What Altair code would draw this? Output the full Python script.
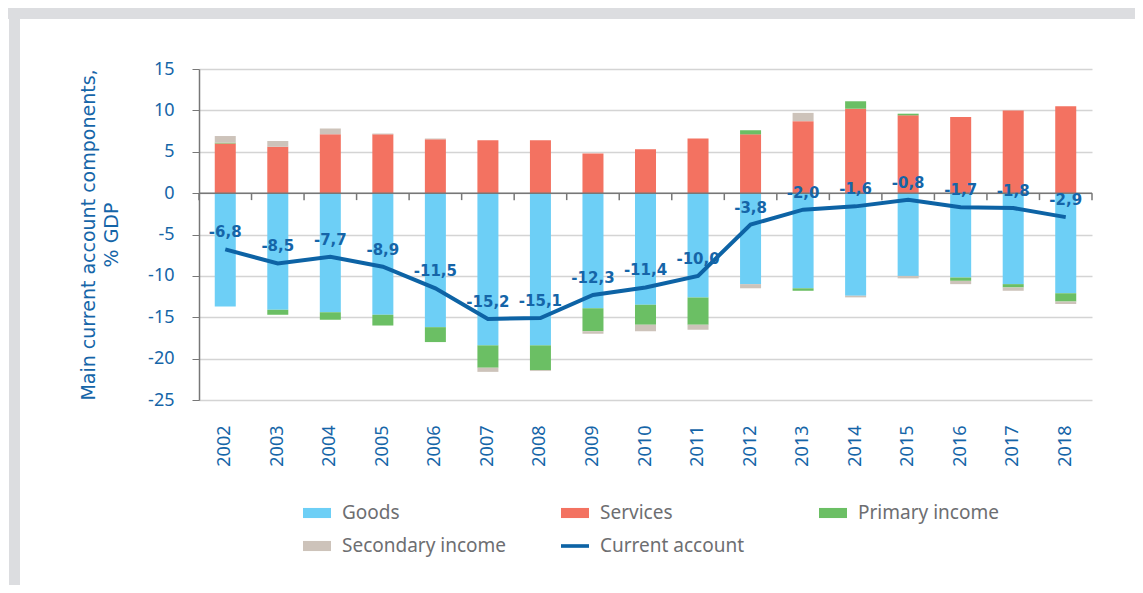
import altair as alt
import pandas as pd

years = [str(y) for y in range(2002, 2019)]
goods = [-13.7, -14.1, -14.4, -14.7, -16.2, -18.4, -18.4, -13.9, -13.5, -12.6, -11.0, -11.5, -12.4, -10.0, -10.2, -11.0, -12.1]
services = [6.0, 5.6, 7.1, 7.1, 6.5, 6.4, 6.4, 4.8, 5.3, 6.6, 7.1, 8.7, 10.2, 9.4, 9.2, 10.0, 10.5]
primary = [0.1, -0.6, -0.9, -1.3, -1.8, -2.7, -3.0, -2.8, -2.4, -3.3, 0.5, -0.3, 0.9, 0.2, -0.4, -0.4, -1.0]
secondary = [0.8, 0.7, 0.7, 0.1, 0.1, -0.5, -0.1, -0.3, -0.8, -0.6, -0.5, 1.0, -0.2, -0.3, -0.4, -0.4, -0.3]
current = [-6.8, -8.5, -7.7, -8.9, -11.5, -15.2, -15.1, -12.3, -11.4, -10.0, -3.8, -2.0, -1.6, -0.8, -1.7, -1.8, -2.9]

components = ["Goods", "Services", "Primary income", "Secondary income"]
bar_colors = ["#6dcff6", "#f37261", "#6bbf64", "#cdc3ba"]
line_name = "Current account"
line_color = "#0d63a5"

rows = []
for i, y in enumerate(years):
    for k, (name, vals) in enumerate(zip(components, [goods, services, primary, secondary])):
        rows.append({"year": y, "component": name, "value": vals[i], "order": k})
bars_df = pd.DataFrame(rows)
line_df = pd.DataFrame({
    "year": years,
    "ca": current,
    "label": [f"{v:.1f}".replace(".", ",") for v in current],
})
zero_df = pd.DataFrame({"year": years, "z": [0] * len(years)})

FONT = "Noto Sans"
BLUE = "#1565a8"
AXIS_GREY = "#777777"
FRAME = "#dcdde0"
W, H = 893, 331
STEP = W / len(years)
ZERO_Y = H * 15 / 40

xscale = alt.Scale(domain=years, paddingInner=0.6, paddingOuter=0.3)
yscale = alt.Scale(domain=[-25, 15], nice=False)

x_axis = alt.Axis(title=None, labelAngle=-90, labelFont=FONT, labelFontSize=18,
                  labelColor=BLUE, labelPadding=25, ticks=False, domain=False,
                  grid=False, labelBaseline="middle")
x_enc = alt.X("year:N", scale=xscale, sort=years, axis=x_axis)

legend_common = dict(
    title=None, orient="none", direction="horizontal", symbolSize=784,
    labelOffset=11, labelLimit=400,
    labelFont=FONT, labelFontSize=19, labelColor="#6d6e71", padding=0,
    symbolStrokeWidth=0, symbolOpacity=1,
)
bar_legend = alt.Legend(
    legendX=104, legendY=430, columns=3, columnPadding=54, rowPadding=9,
    gridAlign="all", values=components,
    symbolType="M-1,-0.36H1V0.36H-1Z", **legend_common,
)
line_legend = alt.Legend(
    legendX=362, legendY=463, symbolType="M-1,-0.13H1V0.13H-1Z",
    symbolFillColor=line_color, **legend_common,
)

# grey frame bands (top and left) outside the plot
frame_top = alt.Chart(pd.DataFrame({"p": [0]})).mark_rect(color=FRAME).encode(
    x=alt.value(-191), x2=alt.value(W + 43), y=alt.value(-61), y2=alt.value(-50)
)
frame_left = alt.Chart(pd.DataFrame({"p": [0]})).mark_rect(color=FRAME).encode(
    x=alt.value(-190), x2=alt.value(-179), y=alt.value(-61), y2=alt.value(H + 185)
)

bars = alt.Chart(bars_df).mark_bar().encode(
    x=x_enc,
    y=alt.Y("value:Q", scale=yscale, stack="zero",
            axis=alt.Axis(title=["Main current account components,", "% GDP"],
                          titleFont="DejaVu Sans", titleFontSize=19, titleFontWeight="normal",
                          titleColor=BLUE, titlePadding=26, titleLineHeight=23,
                          values=[-25, -20, -15, -10, -5, 0, 5, 10, 15],
                          labelExpr="'' + datum.value",
                          labelFont=FONT, labelFontSize=18, labelColor=BLUE,
                          labelPadding=18, tickSize=7, tickColor=AXIS_GREY,
                          domainColor=AXIS_GREY, domainWidth=1.5,
                          gridColor="#d4d4d4", gridWidth=1.5)),
    color=alt.Color("component:N", scale=alt.Scale(domain=components, range=bar_colors),
                    legend=bar_legend),
    order=alt.Order("order:Q"),
)

zero = alt.Chart(pd.DataFrame({"z": [0]})).mark_rule(color=AXIS_GREY, strokeWidth=1.5).encode(
    y=alt.Y("z:Q", scale=yscale)
)

# category tick marks hanging from the zero line at band boundaries
ticks_left = alt.Chart(zero_df).mark_rule(
    color=AXIS_GREY, strokeWidth=1.5, xOffset=-STEP / 2
).encode(
    x=x_enc,
    y=alt.Y("z:Q", scale=yscale),
    y2=alt.value(ZERO_Y + 7),
)
ticks_right = alt.Chart(zero_df.tail(1)).mark_rule(
    color=AXIS_GREY, strokeWidth=1.5, xOffset=STEP / 2
).encode(
    x=x_enc,
    y=alt.Y("z:Q", scale=yscale),
    y2=alt.value(ZERO_Y + 7),
)

line = alt.Chart(line_df).mark_line(strokeWidth=4).encode(
    x=x_enc,
    y=alt.Y("ca:Q", scale=yscale),
    color=alt.Color("name:N", scale=alt.Scale(domain=[line_name], range=[line_color]),
                    legend=line_legend),
).transform_calculate(name=f"'{line_name}'")

labels = alt.Chart(line_df).mark_text(
    dy=-17, font="DejaVu Sans", fontSize=15, fontWeight="bold", color=BLUE
).encode(
    x=x_enc,
    y=alt.Y("ca:Q", scale=yscale),
    text="label:N",
)

chart = alt.layer(frame_top, frame_left, bars, zero, ticks_left, ticks_right, line, labels).resolve_scale(
    color="independent"
).properties(
    width=W, height=H,
    background="white",
    padding={"left": 191, "top": 61, "right": 43, "bottom": 185},
    autosize=alt.AutoSizeParams(type="none"),
).configure_view(stroke=None)

chart.save("out.html", embed_options={"renderer": "svg", "actions": False})
